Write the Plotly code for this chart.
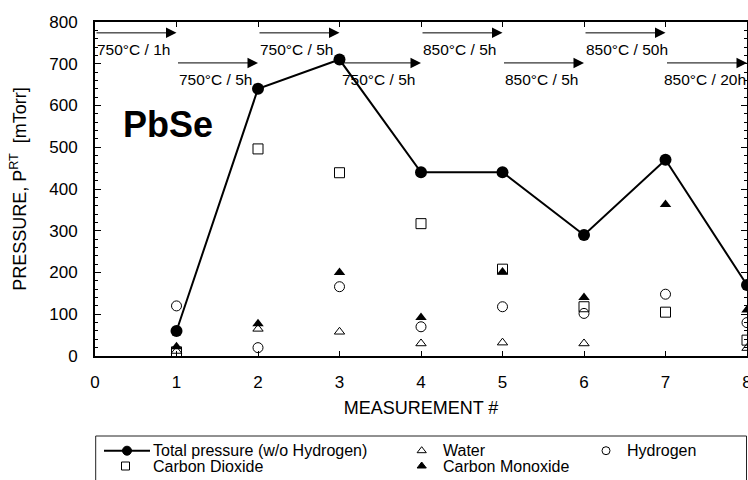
import plotly.graph_objects as go

# Measurement index and partial pressures (mTorr, room temperature)
measurement = [1, 2, 3, 4, 5, 6, 7, 8]
total_pressure = [60, 640, 710, 440, 440, 290, 470, 170]
water = [12, 65, 58, 30, 32, 30, None, 19]
hydrogen = [120, 20, 166, 70, 118, 102, 148, 80]
carbon_dioxide = [10, 496, 439, 317, 208, 118, 105, 38]
carbon_monoxide = [22, 77, 200, 92, 201, 140, 363, 110]

# Anneal steps between measurements
step_start = [0, 1, 2, 3, 4, 5, 6, 7]
step_label = ["750°C / 1h", "750°C / 5h", "750°C / 5h", "750°C / 5h",
              "850°C / 5h", "850°C / 5h", "850°C / 50h", "850°C / 20h"]

FONT = "Liberation Sans, Arial, Helvetica, sans-serif"
W, H = 748, 480
ML, MR, MT = 95, 1, 22
AXIS_BOTTOM_PX = 356
D = (H - AXIS_BOTTOM_PX) / (H - MT)  # paper fraction used by the legend strip

fig = go.Figure()

fig.add_trace(go.Scatter(
    x=measurement, y=water, mode="markers", name="Water",
    marker=dict(symbol="triangle-up-open", size=9, color="black", line=dict(width=1, color="black"))))
fig.add_trace(go.Scatter(
    x=measurement, y=hydrogen, mode="markers", name="Hydrogen",
    marker=dict(symbol="circle-open", size=10, color="black", line=dict(width=1, color="black"))))
fig.add_trace(go.Scatter(
    x=measurement, y=carbon_dioxide, mode="markers", name="Carbon Dioxide",
    marker=dict(symbol="square-open", size=10, color="black", line=dict(width=1, color="black"))))
fig.add_trace(go.Scatter(
    x=measurement, y=carbon_monoxide, mode="markers", name="Carbon Monoxide",
    marker=dict(symbol="triangle-up", size=10, color="black")))
fig.add_trace(go.Scatter(
    x=measurement, y=total_pressure, mode="lines+markers", name="Total pressure (w/o Hydrogen)",
    line=dict(color="black", width=2),
    marker=dict(symbol="circle", size=12, color="black")))

# Legend strip drawn on an auxiliary pixel-scaled axis pair
col1, col2, col3 = 127, 421.7, 606
row1, row2 = 450.7, 466
fig.add_trace(go.Scatter(x=[104, 150], y=[row1, row1], mode="lines", xaxis="x2", yaxis="y2",
                         line=dict(color="black", width=2), hoverinfo="skip"))
legend_marks = [
    (col1, row1, "circle", 9),
    (col1 - 1.5, row2, "square-open", 8),
    (col2, row1, "triangle-up-open", 8),
    (col2, row2, "triangle-up", 8),
    (col3, row1, "circle-open", 8),
]
for mx, my, sym, sz in legend_marks:
    fig.add_trace(go.Scatter(x=[mx], y=[my], mode="markers", xaxis="x2", yaxis="y2",
                             marker=dict(symbol=sym, size=sz, color="black",
                                         line=dict(width=1, color="black")),
                             hoverinfo="skip"))
legend_text = [
    (151, row1, "Total pressure (w/o Hydrogen)"),
    (151, row2, "Carbon Dioxide"),
    (441, row1, "Water"),
    (441, row2, "Carbon Monoxide"),
    (625, row1, "Hydrogen"),
]
annotations = []
for tx, ty, t in legend_text:
    annotations.append(dict(x=tx, y=ty, xref="x2", yref="y2", text=t, showarrow=False,
                            xanchor="left", yanchor="middle",
                            font=dict(family=FONT, size=16, color="black")))

# Anneal arrows and their labels, alternating between two rows
arrow_y = [774, 702]
label_y = [735, 663]
for i, (s, lab) in enumerate(zip(step_start, step_label)):
    r = i % 2
    annotations.append(dict(x=s + 1, y=arrow_y[r], ax=s, ay=arrow_y[r], xref="x", yref="y",
                            axref="x", ayref="y", text="", showarrow=True,
                            arrowhead=2, arrowsize=2.1, arrowwidth=1, arrowcolor="black",
                            standoff=0, startstandoff=0))
    annotations.append(dict(x=s, y=label_y[r], xref="x", yref="y", text=lab, showarrow=False,
                            xanchor="left", yanchor="middle", xshift=-4 if s == 7 else 0,
                            font=dict(family=FONT, size=15.5, color="black")))

annotations.append(dict(x=0.9, y=555, xref="x", yref="y", text="<b>PbSe</b>", showarrow=False,
                        xanchor="center", yanchor="middle",
                        font=dict(family=FONT, size=36, color="black")))

fig.update_layout(
    width=W, height=H,
    margin=dict(l=ML, r=MR, t=MT, b=0, autoexpand=False),
    paper_bgcolor="white", plot_bgcolor="white",
    showlegend=False,
    font=dict(family=FONT, color="black"),
    annotations=annotations,
    shapes=[dict(type="rect", xref="x2", yref="y2", x0=95.7, x1=746.5, y0=436, y1=495,
                 line=dict(color="#222222", width=1), fillcolor="rgba(0,0,0,0)")],
    xaxis=dict(range=[0, 8], dtick=1, tick0=0, ticks="inside", ticklen=5, tickwidth=1,
               tickcolor="black", showline=True, linewidth=2, linecolor="black", mirror="ticks",
               showgrid=False, zeroline=False, anchor="y", automargin=False,
               ticklabeloverflow="allow",
               tickfont=dict(family=FONT, size=17), ticklabelstandoff=10,
               title=dict(text="MEASUREMENT #", font=dict(family=FONT, size=18), standoff=10)),
    yaxis=dict(range=[0, 800], dtick=100, tick0=0, ticks="inside", ticklen=6, tickwidth=1,
               tickcolor="black", showline=True, linewidth=2, linecolor="black", mirror="ticks",
               showgrid=False, zeroline=False, domain=[D, 1], anchor="x", automargin=False,
               minor=dict(dtick=20, ticks="inside", ticklen=3, tickcolor="black", showgrid=False),
               tickfont=dict(family=FONT, size=17), ticklabelstandoff=12,
               title=dict(text="PRESSURE, P<sup>RT</sup>  [mTorr]", font=dict(family=FONT, size=18),
                          standoff=18)),
    xaxis2=dict(domain=[0, 1], range=[ML, W - MR], visible=False, anchor="y2", fixedrange=True,
                automargin=False),
    yaxis2=dict(domain=[0, D], range=[H, AXIS_BOTTOM_PX], visible=False, anchor="x2",
                fixedrange=True, automargin=False),
)

fig.write_html("out.html")
